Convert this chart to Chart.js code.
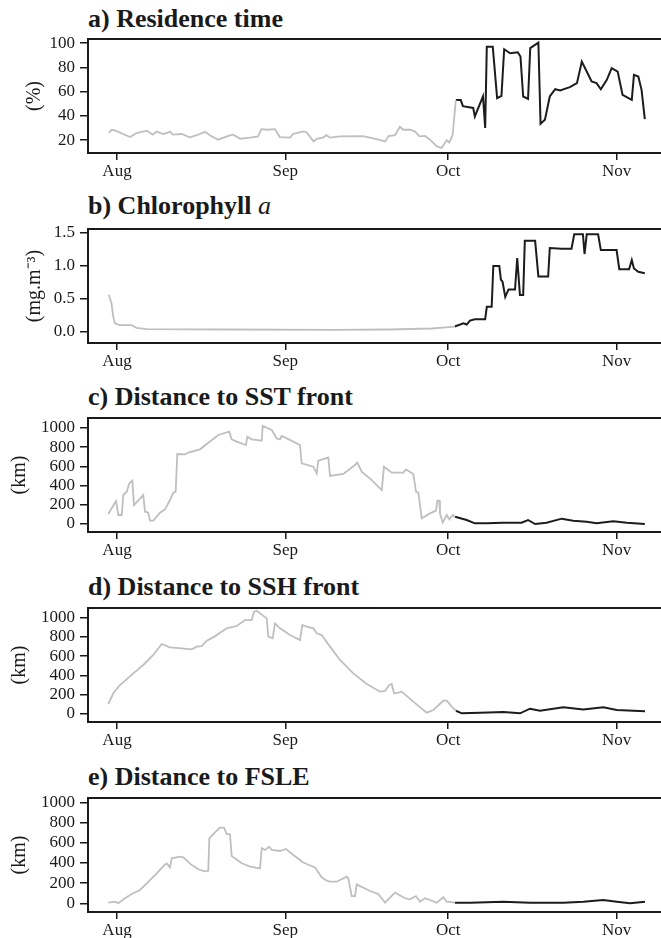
<!DOCTYPE html>
<html>
<head>
<meta charset="utf-8">
<script src="https://cdn.jsdelivr.net/npm/chart.js@4.4.1/dist/chart.umd.min.js"></script>
<style>
  body { margin: 0; background: #fff; width: 661px; height: 938px; overflow: hidden; position: relative; font-family: "Liberation Serif", serif; }
  .ttl { position: absolute; left: 88px; font-weight: bold; font-size: 26px; line-height: 1; color: #1a1a1a; white-space: nowrap; }
  .ttl i { font-weight: normal; }
  canvas { position: absolute; left: 0; }
</style>
</head>
<body>
<div class="ttl" style="top:6px">a) Residence time</div>
<div class="ttl" style="top:193px">b) Chlorophyll <i>a</i></div>
<div class="ttl" style="top:384px">c) Distance to SST front</div>
<div class="ttl" style="top:574px">d) Distance to SSH front</div>
<div class="ttl" style="top:764px">e) Distance to FSLE</div>
<canvas id="c0" width="661" height="188" style="top:0px"></canvas>
<canvas id="c1" width="661" height="188" style="top:190px"></canvas>
<canvas id="c2" width="661" height="188" style="top:379px"></canvas>
<canvas id="c3" width="661" height="188" style="top:569px"></canvas>
<canvas id="c4" width="661" height="188" style="top:759px"></canvas>
<script>
'use strict';

// x is days since 1 Aug
var monthDays = [0, 31, 61, 92];
var monthLabels = ['Aug', 'Sep', 'Oct', 'Nov'];

// a) residence time (%)
var resGreyDays = [-1.5, -1.0, -0.4, 0.6, 2.4, 3.6, 5.5, 6.6, 7.3, 8.5, 9.8, 10.3, 11.9, 13.4, 14.7, 16.2, 17.1, 18.6, 20.8, 21.4, 22.7, 24.5, 26.0, 26.6, 27.6, 29.1, 30.0, 31.9, 32.4, 34.3, 34.9, 36.2, 36.8, 37.9, 38.6, 39.2, 41.1, 45.3, 47.8, 49.4, 50.0, 51.2, 52.1, 52.7, 54.0, 54.9, 55.7, 56.7, 57.6, 58.9, 59.8, 60.7, 61.2, 61.8, 62.4];
var resGreyVals = [26, 28.5, 28, 26, 22.5, 25.8, 27.7, 24.4, 27, 25, 26.8, 24.5, 25, 22.2, 24, 26.8, 24, 20.3, 23.8, 24.5, 21.1, 22, 23, 29, 28.5, 29, 22.5, 22, 25, 27.1, 26.5, 18.9, 21, 22, 24, 22, 23, 23.3, 20.8, 18.9, 23.3, 24, 31, 28.5, 28.5, 27, 23, 23.5, 20.5, 14.7, 13.5, 20, 18, 24, 53];
var resBlackDays = [62.4, 63.3, 63.7, 65.6, 65.9, 67.4, 67.8, 68.1, 69.2, 70.0, 70.8, 71.3, 72.4, 73.8, 74.3, 74.8, 75.7, 76.1, 77.6, 78.0, 78.8, 79.7, 80.7, 81.6, 83.4, 84.7, 85.6, 86.5, 87.4, 88.3, 89.1, 90.2, 91.1, 92.2, 93.1, 94.8, 95.2, 96.0, 96.6, 97.2];
var resBlackVals = [53, 53, 48, 46.5, 39.5, 56, 30, 97, 97, 54.6, 56.5, 95, 91.7, 92.5, 89, 56, 54, 96, 100.5, 33.4, 36.7, 56, 62, 61, 63.7, 67, 84.8, 76.6, 68.4, 67, 62, 69.7, 79.4, 76.6, 57.4, 53.2, 73.9, 72.5, 61.5, 37.3];
var resTicks = [20, 40, 60, 80, 100];
var resTickLabels = ['20', '40', '60', '80', '100'];

// b) chlorophyll a (mg.m-3)
var chlGreyDays = [-1.5, -1.0, -0.7, -0.4, 0.5, 2.7, 3.6, 5.5, 20, 40, 50, 58, 62.2];
var chlGreyVals = [0.56, 0.43, 0.23, 0.13, 0.10, 0.10, 0.06, 0.04, 0.035, 0.03, 0.035, 0.05, 0.08];
var chlBlackDays = [62.2, 63.8, 64.4, 65.0, 65.9, 67.8, 68.1, 69.0, 69.3, 70.4, 70.7, 71.0, 71.5, 72.1, 73.3, 73.7, 74.2, 74.8, 75.1, 77.0, 77.6, 79.4, 79.7, 81.9, 83.7, 84.2, 85.8, 86.1, 86.5, 88.6, 89.1, 92.0, 92.5, 94.3, 94.8, 95.2, 96.0, 97.2];
var chlBlackVals = [0.08, 0.13, 0.11, 0.17, 0.19, 0.19, 0.38, 0.38, 1.0, 1.0, 0.79, 0.76, 0.53, 0.64, 0.64, 1.12, 0.56, 0.56, 1.38, 1.38, 0.84, 0.84, 1.27, 1.26, 1.26, 1.48, 1.48, 1.18, 1.48, 1.48, 1.24, 1.24, 0.95, 0.95, 1.09, 0.96, 0.91, 0.89];
var chlTicks = [0, 0.5, 1, 1.5];
var chlTickLabels = ['0.0', '0.5', '1.0', '1.5'];

// c) distance to SST front (km)
var sstGreyDays = [-1.6, -0.18, 0.24, 0.87, 1.16, 1.79, 2.27, 2.82, 3.13, 4.84, 5.16, 5.76, 6.08, 6.69, 7.92, 8.84, 9.76, 10.37, 10.81, 11.1, 12.52, 13.13, 15.29, 16.52, 18.66, 20.68, 21.12, 22.04, 23.76, 24.0, 24.8, 26.65, 26.83, 28.49, 29.41, 30.02, 30.33, 32.47, 33.7, 34.01, 36.15, 36.78, 37.07, 38.91, 39.23, 41.68, 43.83, 44.25, 45.06, 46.91, 48.75, 49.17, 50.59, 52.73, 53.22, 54.57, 55.06, 55.49, 56.11, 57.64, 58.75, 58.99, 59.36, 59.48, 59.98, 60.72, 61.2, 61.82, 62.25];
var sstGreyVals = [104, 240, 94, 94, 302, 337, 424, 451, 198, 302, 128, 118, 35, 35, 118, 153, 250, 326, 337, 729, 726, 743, 778, 833, 927, 962, 882, 858, 823, 910, 882, 868, 1021, 979, 892, 882, 917, 858, 823, 632, 597, 528, 660, 694, 500, 521, 615, 639, 545, 458, 354, 597, 535, 535, 569, 521, 337, 326, 59, 111, 139, 243, 243, 111, 14, 94, 49, 94, 76];
var sstBlackDays = [62.25, 64.4, 65.9, 68.1, 71.1, 74.5, 75.7, 77.0, 79.1, 81.9, 84.0, 86.5, 88.3, 91.4, 93.9, 97.2];
var sstBlackVals = [76, 42, 7, 7, 14, 14, 42, 0, 14, 56, 35, 24, 7, 28, 14, 0];

// d) distance to SSH front (km)
var sshGreyDays = [-1.6, -0.68, 0.55, 3.0, 4.84, 6.69, 8.23, 9.76, 11.92, 13.76, 14.68, 15.6, 16.52, 17.73, 20.2, 22.04, 23.57, 24.8, 25.23, 25.73, 27.57, 27.86, 28.67, 29.1, 30.02, 31.86, 33.7, 34.13, 34.94, 36.15, 36.78, 37.7, 39.23, 41.07, 43.52, 45.99, 48.43, 49.36, 50.15, 50.59, 51.01, 51.8, 52.43, 54.57, 57.03, 58.25, 60.09, 60.72, 61.64, 62.43];
var sshGreyVals = [104, 215, 301, 422, 509, 613, 727, 692, 682, 671, 699, 706, 761, 796, 890, 914, 976, 976, 1063, 1073, 993, 803, 786, 941, 890, 820, 768, 924, 907, 890, 838, 820, 700, 561, 422, 312, 232, 241, 301, 312, 215, 222, 232, 128, 14, 42, 138, 138, 76, 34];
var sshBlackDays = [62.43, 63.48, 66.85, 71.14, 74.22, 76.06, 77.9, 82.19, 85.87, 89.56, 92.03, 97.24];
var sshBlackVals = [34, 7, 14, 21, 7, 55, 34, 69, 48, 69, 42, 28];

// e) distance to FSLE (km)
var fsleGreyDays = [-1.6, -0.37, 0.24, 1.47, 2.71, 4.24, 5.47, 7.31, 8.84, 9.16, 9.76, 10.07, 11.6, 12.21, 13.76, 14.97, 16.21, 16.81, 17.0, 18.36, 18.97, 19.71, 20.2, 20.81, 21.12, 22.97, 24.49, 26.34, 26.65, 27.26, 28.05, 28.49, 30.02, 31.12, 32.47, 33.7, 34.01, 34.94, 36.46, 36.78, 37.7, 38.62, 39.23, 40.46, 42.3, 42.6, 43.22, 43.83, 44.14, 46.59, 48.12, 49.36, 51.2, 53.04, 53.96, 55.06, 55.8, 56.72, 57.64, 58.88, 60.09, 60.72, 62.25];
var fsleGreyVals = [6, 16, 0, 50, 92, 132, 198, 297, 386, 396, 356, 446, 462, 455, 379, 337, 317, 323, 644, 719, 749, 749, 686, 686, 468, 396, 363, 346, 545, 528, 561, 528, 518, 538, 478, 429, 412, 389, 356, 330, 257, 224, 214, 214, 264, 248, 72, 72, 188, 122, 92, 6, 105, 50, 40, 72, 16, 50, 33, 6, 59, 16, 6];
var fsleBlackDays = [62.25, 65.0, 71.14, 76.06, 82.19, 85.87, 89.56, 92.03, 94.48, 97.24];
var fsleBlackVals = [6, 6, 16, 6, 6, 16, 33, 16, 0, 16];

var kmTicks = [0, 200, 400, 600, 800, 1000];
var kmTickLabels = ['0', '200', '400', '600', '800', '1000'];

var ink = '#1a1a1a';
var serif = '"Liberation Serif", "Times New Roman", serif';
Chart.defaults.font.family = serif;
Chart.defaults.color = ink;

function pts(days, vals) {
  return days.map(function (d, i) { return { x: d, y: vals[i] }; });
}

// top frame line, the library only draws left and bottom borders
var topLine = {
  id: 'topLine',
  afterDraw: function (chart) {
    var a = chart.chartArea, c = chart.ctx;
    c.save();
    c.strokeStyle = ink;
    c.lineWidth = 2;
    c.beginPath();
    c.moveTo(a.left - 1, a.top);
    c.lineTo(a.right, a.top);
    c.stroke();
    c.restore();
  }
};

function panel(id, greyD, greyV, blackD, blackV, yMin, yMax, ticks, tickLabels, yTitle, padLeft) {
  new Chart(document.getElementById(id), {
    type: 'line',
    data: {
      datasets: [
        { data: pts(greyD, greyV), borderColor: '#bfbfbf', borderWidth: 1.8 },
        { data: pts(blackD, blackV), borderColor: '#1c1c1c', borderWidth: 2 }
      ]
    },
    options: {
      responsive: false,
      animation: false,
      devicePixelRatio: 1,
      elements: { point: { radius: 0 }, line: { tension: 0 } },
      layout: { padding: { left: padLeft, top: 39, right: 0, bottom: 0 } },
      plugins: { legend: { display: false }, tooltip: { enabled: false } },
      scales: {
        x: {
          type: 'linear',
          min: -5.34,
          max: 100.18,
          afterBuildTicks: function (s) { s.ticks = monthDays.map(function (v) { return { value: v }; }); },
          afterFit: function (s) { s.height = 35; },
          ticks: {
            autoSkip: false, maxRotation: 0, padding: 1,
            font: { size: 17 }, color: ink,
            callback: function (v, i) { return monthLabels[i]; }
          },
          grid: { drawOnChartArea: false, drawTicks: true, tickLength: 7, color: ink, lineWidth: 1.5 },
          border: { color: ink, width: 2 }
        },
        y: {
          min: yMin,
          max: yMax,
          afterBuildTicks: function (s) { s.ticks = ticks.map(function (v) { return { value: v }; }); },
          afterFit: function (s) { s.width = 88 - padLeft; },
          ticks: {
            autoSkip: false, padding: 5,
            font: { size: 17 }, color: ink,
            callback: function (v, i) { return tickLabels[i]; }
          },
          grid: { drawOnChartArea: false, drawTicks: true, tickLength: 8, color: ink, lineWidth: 1.5 },
          border: { color: ink, width: 2 },
          title: { display: true, text: yTitle, font: { size: 20 }, color: ink, padding: 0 }
        }
      }
    },
    plugins: [topLine]
  });
}

panel('c0', resGreyDays, resGreyVals, resBlackDays, resBlackVals, 9.3, 103.5, resTicks, resTickLabels, '(%)', 23);
panel('c1', chlGreyDays, chlGreyVals, chlBlackDays, chlBlackVals, -0.17, 1.56, chlTicks, chlTickLabels, '(mg.m\u207B\u00B3)', 23);
panel('c2', sstGreyDays, sstGreyVals, sstBlackDays, sstBlackVals, -83, 1104, kmTicks, kmTickLabels, '(km)', 8);
panel('c3', sshGreyDays, sshGreyVals, sshBlackDays, sshBlackVals, -83, 1101, kmTicks, kmTickLabels, '(km)', 8);
panel('c4', fsleGreyDays, fsleGreyVals, fsleBlackDays, fsleBlackVals, -86, 1043, kmTicks, kmTickLabels, '(km)', 8);
</script>
</body>
</html>
